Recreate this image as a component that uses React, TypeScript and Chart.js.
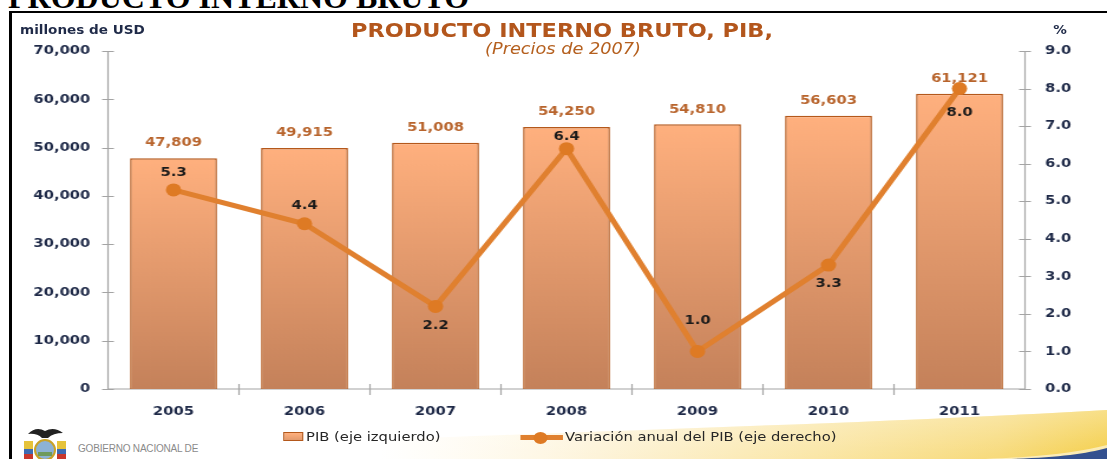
import React, { useEffect, useRef } from 'react';
import { Chart, registerables } from 'chart.js';

Chart.register(...registerables);

// ---- data ----
const years = ['2005', '2006', '2007', '2008', '2009', '2010', '2011'];
const pibValues = [47809, 49915, 51008, 54250, 54810, 56603, 61121];
const growthValues = [5.3, 4.4, 2.2, 6.4, 1.0, 3.3, 8.0];
const leftTickValues = [0, 10000, 20000, 30000, 40000, 50000, 60000, 70000];
const leftTickLabels = ['0', '10,000', '20,000', '30,000', '40,000', '50,000', '60,000', '70,000'];
const rightTickValues = [0, 1, 2, 3, 4, 5, 6, 7, 8, 9];
const rightTickLabels = ['0.0', '1.0', '2.0', '3.0', '4.0', '5.0', '6.0', '7.0', '8.0', '9.0'];
// label offset (px) of each growth label relative to its point
const growthLabelOffset = [-17, -18, 19, -12, -31, 19, 24];

// ---- layout (inner coordinates, horizontally stretched by S) ----
const REAL_W = 1107;
const H = 459;
const W = 938;
const S = REAL_W / W;
const LEFT_W = 108 / S;
const RIGHT_W = W - 1025 / S;
const NAVY = '#1F2A48';
const LINE_COLOR = '#E0802F';
const BAR_TOP = '#FFB07E';
const BAR_BOTTOM = '#C4815A';
const BAR_BORDER = '#B4581B';

const axesPlugin = {
  id: 'excelAxes',
  beforeDatasetsDraw(chart: any) {
    const { ctx, chartArea } = chart;
    const { left, right, top, bottom } = chartArea;
    const y = chart.scales.y;
    const y1 = chart.scales.y1;
    const x = chart.scales.x;
    ctx.save();
    ctx.strokeStyle = '#A4A4A4';
    ctx.lineWidth = 1.2;
    ctx.beginPath();
    ctx.moveTo(left, top);
    ctx.lineTo(left, bottom);
    ctx.moveTo(right, top);
    ctx.lineTo(right, bottom);
    ctx.moveTo(left, bottom);
    ctx.lineTo(right, bottom);
    leftTickValues.forEach((v) => {
      const py = Math.round(y.getPixelForValue(v)) + 0.5;
      ctx.moveTo(left - 5, py);
      ctx.lineTo(left + 5, py);
    });
    rightTickValues.forEach((v) => {
      const py = Math.round(y1.getPixelForValue(v)) + 0.5;
      ctx.moveTo(right - 5, py);
      ctx.lineTo(right + 5, py);
    });
    const n = years.length;
    for (let i = 1; i < n; i++) {
      const px = (x.getPixelForValue(i - 1) + x.getPixelForValue(i)) / 2;
      ctx.moveTo(px, bottom - 5);
      ctx.lineTo(px, bottom + 6);
    }
    ctx.stroke();
    ctx.restore();
  },
};

const labelsPlugin = {
  id: 'valueLabels',
  afterDatasetsDraw(chart: any) {
    const { ctx } = chart;
    ctx.save();
    ctx.textAlign = 'center';
    ctx.textBaseline = 'middle';
    ctx.font = "bold 12.5px 'DejaVu Sans'";
    const barMeta = chart.getDatasetMeta(1);
    ctx.fillStyle = '#B8642C';
    barMeta.data.forEach((el: any, i: number) => {
      ctx.fillText(pibValues[i].toLocaleString('en-US'), el.x, el.y - 15);
    });
    const lineMeta = chart.getDatasetMeta(0);
    ctx.fillStyle = '#1A1A1A';
    lineMeta.data.forEach((el: any, i: number) => {
      ctx.fillText(growthValues[i].toFixed(1), el.x, el.y + growthLabelOffset[i]);
    });
    ctx.restore();
  },
};

export default function App() {
  const canvasRef = useRef<HTMLCanvasElement | null>(null);

  useEffect(() => {
    const canvas = canvasRef.current;
    if (!canvas) return;
    const chart = new Chart(canvas, {
      type: 'bar',
      data: {
        labels: years,
        datasets: [
          {
            type: 'line',
            label: 'Variación anual del PIB (eje derecho)',
            data: growthValues,
            yAxisID: 'y1',
            borderColor: LINE_COLOR,
            backgroundColor: '#DE7A24',
            borderWidth: 5,
            pointRadius: 6.5,
            pointBackgroundColor: '#DE7A24',
            pointBorderWidth: 0,
            tension: 0,
            order: 0,
          } as any,
          {
            type: 'bar',
            label: 'PIB (eje izquierdo)',
            data: pibValues,
            yAxisID: 'y',
            backgroundColor: (c: any) => {
              const ch = c.chart;
              const ya = ch.scales && ch.scales.y;
              if (!ya || c.type !== 'data') return '#F2A070';
              const t = ya.getPixelForValue(c.raw);
              const b = ya.getPixelForValue(0);
              if (!isFinite(t) || !isFinite(b) || t === b) return '#F2A070';
              const g = ch.ctx.createLinearGradient(0, t, 0, b);
              g.addColorStop(0, BAR_TOP);
              g.addColorStop(1, BAR_BOTTOM);
              return g;
            },
            borderColor: BAR_BORDER,
            borderWidth: 1.5,
            barPercentage: 0.664,
            categoryPercentage: 1,
            order: 1,
          } as any,
        ],
      },
      options: {
        responsive: false,
        maintainAspectRatio: false,
        animation: false,
        devicePixelRatio: 1,
        layout: { padding: { top: 51, left: 0, right: 0, bottom: 0 } },
        plugins: {
          legend: { display: false },
          tooltip: { enabled: false },
          title: { display: false },
        },
        scales: {
          x: {
            grid: { display: false, drawTicks: false },
            border: { display: false },
            ticks: { font: { family: 'DejaVu Sans', size: 12.5, weight: 'bold' }, color: NAVY, padding: 15 },
            afterFit: (s: any) => {
              s.height = H - 389;
            },
          },
          y: {
            position: 'left',
            min: 0,
            max: 70000,
            grid: { display: false, drawTicks: false },
            border: { display: false },
            ticks: {
              font: { family: 'DejaVu Sans', size: 12.5, weight: 'bold' },
              color: NAVY,
              padding: 15,
              callback: (_v: any, i: number) => leftTickLabels[i],
            },
            afterBuildTicks: (s: any) => {
              s.ticks = leftTickValues.map((v) => ({ value: v }));
            },
            afterFit: (s: any) => {
              s.width = LEFT_W;
            },
          },
          y1: {
            position: 'right',
            min: 0,
            max: 9,
            grid: { display: false, drawTicks: false },
            border: { display: false },
            ticks: {
              font: { family: 'DejaVu Sans', size: 12.5, weight: 'bold' },
              color: NAVY,
              padding: 17,
              callback: (_v: any, i: number) => rightTickLabels[i],
            },
            afterBuildTicks: (s: any) => {
              s.ticks = rightTickValues.map((v) => ({ value: v }));
            },
            afterFit: (s: any) => {
              s.width = RIGHT_W;
            },
          },
        },
      } as any,
      plugins: [axesPlugin, labelsPlugin],
    });
    return () => chart.destroy();
  }, []);

  const ix = (realX: number) => realX / S;

  return (
    <div
      style={{
        position: 'absolute',
        left: 0,
        top: 0,
        width: REAL_W,
        height: H,
        overflow: 'hidden',
        background: '#ffffff',
      }}
    >
      {/* page heading, mostly cut off */}
      <div
        style={{
          position: 'absolute',
          left: 8,
          top: -19,
          fontFamily: "'Liberation Serif', serif",
          fontWeight: 'bold',
          fontSize: 32,
          lineHeight: '32px',
          color: '#000',
          whiteSpace: 'nowrap',
        }}
      >
        PRODUCTO INTERNO BRUTO
      </div>
      {/* frame */}
      <div
        style={{
          position: 'absolute',
          left: 9,
          top: 11,
          width: REAL_W,
          height: H,
          borderTop: '2px solid #000',
          borderLeft: '3px solid #000',
          boxSizing: 'border-box',
        }}
      />
      {/* decorative footer */}
      <svg
        width={REAL_W}
        height={H}
        style={{ position: 'absolute', left: 0, top: 0 }}
      >
        <defs>
          <linearGradient id="yg" x1="0" x2="1" y1="0" y2="0">
            <stop offset="0" stopColor="#FFF8E4" stopOpacity="0" />
            <stop offset="0.3" stopColor="#FDF3D8" />
            <stop offset="0.6" stopColor="#FAE6A6" />
            <stop offset="0.85" stopColor="#F7DA7A" />
            <stop offset="1" stopColor="#F4CE48" />
          </linearGradient>
          <linearGradient id="yv" x1="0" x2="0" y1="0" y2="1">
            <stop offset="0" stopColor="#FFFFFF" stopOpacity="0.35" />
            <stop offset="1" stopColor="#FFFFFF" stopOpacity="0" />
          </linearGradient>
        </defs>
        <path d="M 380 459 L 380 440 C 560 432, 860 424, 1107 410 L 1107 459 Z" fill="url(#yg)" />
        <path d="M 380 459 L 380 440 C 560 432, 860 424, 1107 410 L 1107 459 Z" fill="url(#yv)" />
        <path d="M 985 459 C 1040 457, 1080 452, 1107 445 L 1107 459 Z" fill="#FFFFFF" opacity="0.55" />
        <path d="M 1005 459 C 1055 458, 1085 454, 1107 448 L 1107 459 Z" fill="#33508F" />
        {/* emblem */}
        <rect x="24" y="441" width="9" height="18" fill="#E6C33A" />
        <rect x="24" y="449" width="9" height="5" fill="#3D6BB3" />
        <rect x="24" y="454" width="9" height="5" fill="#C8372D" />
        <rect x="57" y="441" width="9" height="18" fill="#E6C33A" />
        <rect x="57" y="449" width="9" height="5" fill="#3D6BB3" />
        <rect x="57" y="454" width="9" height="5" fill="#C8372D" />
        <ellipse cx="45" cy="450" rx="10" ry="10" fill="#8DB2D4" stroke="#C9A227" strokeWidth="2" />
        <rect x="38" y="452" width="14" height="4" fill="#6E9A5C" />
        <path d="M28 434 Q36 426 45 431 Q54 426 63 433 Q53 433 48 438 L42 438 Q37 433 28 434 Z" fill="#222" />
      </svg>
      <div
        style={{
          position: 'absolute',
          left: 78,
          top: 443,
          fontFamily: "'Liberation Sans', sans-serif",
          fontSize: 10,
          lineHeight: '11px',
          color: '#8A8A8A',
          letterSpacing: -0.2,
          whiteSpace: 'nowrap',
        }}
      >
        GOBIERNO NACIONAL DE
      </div>

      {/* stretched chart block */}
      <div
        style={{
          position: 'absolute',
          left: 0,
          top: 0,
          width: W,
          height: H,
          transform: `scaleX(${S})`,
          transformOrigin: '0 0',
        }}
      >
        <canvas
          ref={canvasRef}
          width={W}
          height={H}
          style={{ position: 'absolute', left: 0, top: 0, width: W, height: H }}
        />
        <div
          style={{
            position: 'absolute',
            left: ix(562) - 300,
            width: 600,
            top: 19,
            textAlign: 'center',
            fontFamily: "'DejaVu Sans', sans-serif",
            fontWeight: 'bold',
            fontSize: 19,
            lineHeight: '22px',
            color: '#B3561C',
            whiteSpace: 'nowrap',
          }}
        >
          PRODUCTO INTERNO BRUTO, PIB,
        </div>
        <div
          style={{
            position: 'absolute',
            left: ix(563) - 300,
            width: 600,
            top: 40,
            textAlign: 'center',
            fontFamily: "'DejaVu Sans', sans-serif",
            fontStyle: 'italic',
            fontSize: 15,
            lineHeight: '18px',
            color: '#B5601F',
            whiteSpace: 'nowrap',
          }}
        >
          (Precios de 2007)
        </div>
        <div
          style={{
            position: 'absolute',
            left: ix(20),
            top: 23,
            fontFamily: "'DejaVu Sans', sans-serif",
            fontWeight: 'bold',
            fontSize: 11.5,
            lineHeight: '14px',
            color: NAVY,
            whiteSpace: 'nowrap',
          }}
        >
          millones de USD
        </div>
        <div
          style={{
            position: 'absolute',
            left: ix(1060) - 20,
            width: 40,
            textAlign: 'center',
            top: 23,
            fontFamily: "'DejaVu Sans', sans-serif",
            fontWeight: 'bold',
            fontSize: 11.5,
            lineHeight: '14px',
            color: NAVY,
          }}
        >
          %
        </div>
        {/* legend */}
        <div
          style={{
            position: 'absolute',
            left: ix(283),
            top: 432,
            width: ix(303) - ix(283),
            height: 9,
            background: `linear-gradient(${BAR_TOP}, #E39A6C)`,
            border: `1px solid ${BAR_BORDER}`,
            boxSizing: 'border-box',
          }}
        />
        <div
          style={{
            position: 'absolute',
            left: ix(306),
            top: 429,
            fontFamily: "'DejaVu Sans', sans-serif",
            fontSize: 12.5,
            lineHeight: '16px',
            color: '#262626',
            whiteSpace: 'nowrap',
          }}
        >
          PIB (eje izquierdo)
        </div>
        <div
          style={{
            position: 'absolute',
            left: ix(520),
            top: 435,
            width: ix(563) - ix(520),
            height: 5,
            background: LINE_COLOR,
          }}
        />
        <div
          style={{
            position: 'absolute',
            left: ix(541) - 6,
            top: 431.5,
            width: 12,
            height: 12,
            borderRadius: '50%',
            background: '#DE7A24',
          }}
        />
        <div
          style={{
            position: 'absolute',
            left: ix(565),
            top: 429,
            fontFamily: "'DejaVu Sans', sans-serif",
            fontSize: 12.5,
            lineHeight: '16px',
            color: '#262626',
            whiteSpace: 'nowrap',
          }}
        >
          Variación anual del PIB (eje derecho)
        </div>
      </div>
    </div>
  );
}
